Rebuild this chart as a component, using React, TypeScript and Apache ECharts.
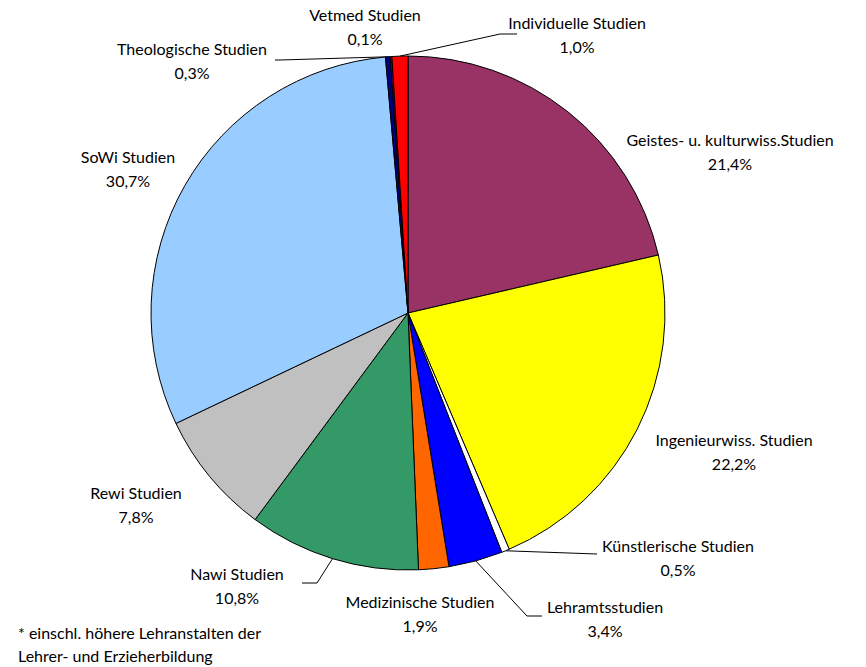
import React, { useEffect, useRef } from "react";
import * as echarts from "echarts";

const categories = [
  "Geistes- u. kulturwiss.Studien",
  "Ingenieurwiss. Studien",
  "Künstlerische Studien",
  "Lehramtsstudien",
  "Medizinische Studien",
  "Nawi Studien",
  "Rewi Studien",
  "SoWi Studien",
  "Theologische Studien",
  "Vetmed Studien",
  "Individuelle Studien",
];
const shares = [21.4, 22.2, 0.5, 3.4, 1.9, 10.8, 7.8, 30.7, 0.3, 0.1, 1.0];
const colors = [
  "#993366", "#FFFF00", "#FFFFFF", "#0000FF", "#FF6600", "#339966",
  "#C0C0C0", "#99CCFF", "#000080", "#800080", "#FF0000",
];
const footnote = ["* einschl. höhere Lehranstalten der", "Lehrer- und Erzieherbildung"];

// label layout (centre of label block, optional leader line points after the edge point)
const labelPos: { x: number; y: number; line?: [number, number][] }[] = [
  { x: 730, y: 151 },
  { x: 734, y: 451 },
  { x: 678, y: 557, line: [[597, 554]] },
  { x: 605, y: 618, line: [[527, 616], [542, 616]] },
  { x: 420, y: 613 },
  { x: 237, y: 585, line: [[317, 583], [302, 583]] },
  { x: 136, y: 504 },
  { x: 128, y: 168 },
  { x: 192, y: 60, line: [[280, 60], [275, 60]] },
  { x: 365, y: 26 },
  { x: 577, y: 34, line: [[500, 34], [517, 34]] },
];

const CX = 408;
const CY = 313;
const R = 257;

export default function App() {
  const ref = useRef<HTMLDivElement>(null);
  useEffect(() => {
    document.body.style.margin = "0";
    const chart = echarts.init(ref.current!, null, { renderer: "svg" });
    const total = shares.reduce((a, b) => a + b, 0);
    const cum: number[] = [];
    let acc = 0;
    shares.forEach((v) => {
      cum.push(acc + v / 2);
      acc += v;
    });
    const edge = (i: number): [number, number] => {
      const a = (cum[i] / total) * Math.PI * 2;
      return [CX + R * Math.sin(a), CY - R * Math.cos(a)];
    };
    const font = "Lato";
    chart.setOption({
      animation: false,
      backgroundColor: "#fff",
      series: [
        {
          type: "pie",
          center: [CX, CY],
          radius: R,
          startAngle: 90,
          clockwise: true,
          avoidLabelOverlap: false,
          minAngle: 0,
          itemStyle: { borderColor: "#000", borderWidth: 1 },
          emphasis: { disabled: true },
          label: {
            show: true,
            color: "#000",
            fontFamily: font,
            fontSize: 16,
            lineHeight: 24,
            align: "center",
            formatter: (p: any) =>
              p.name + "\n" + p.value.toFixed(1).replace(".", ",") + "%",
          },
          labelLine: { show: true, lineStyle: { color: "#000", width: 1 } },
          labelLayout: (p: any) => {
            const lp = labelPos[p.dataIndex];
            const res: any = { x: lp.x, y: lp.y, align: "center", verticalAlign: "middle" };
            if (lp.line) res.labelLinePoints = [edge(p.dataIndex), ...lp.line];
            return res;
          },
          data: categories.map((name, i) => ({
            name,
            value: shares[i],
            itemStyle: { color: colors[i] },
            labelLine: { show: !!labelPos[i].line },
          })),
        },
      ],
      graphic: footnote.map((t, i) => ({
        type: "text",
        left: 18,
        top: 624 + i * 23,
        style: { text: t, fill: "#000", font: `16px ${font}` },
      })),
    });
    return () => chart.dispose();
  }, []);
  return <div ref={ref} style={{ width: 866, height: 667 }} />;
}
